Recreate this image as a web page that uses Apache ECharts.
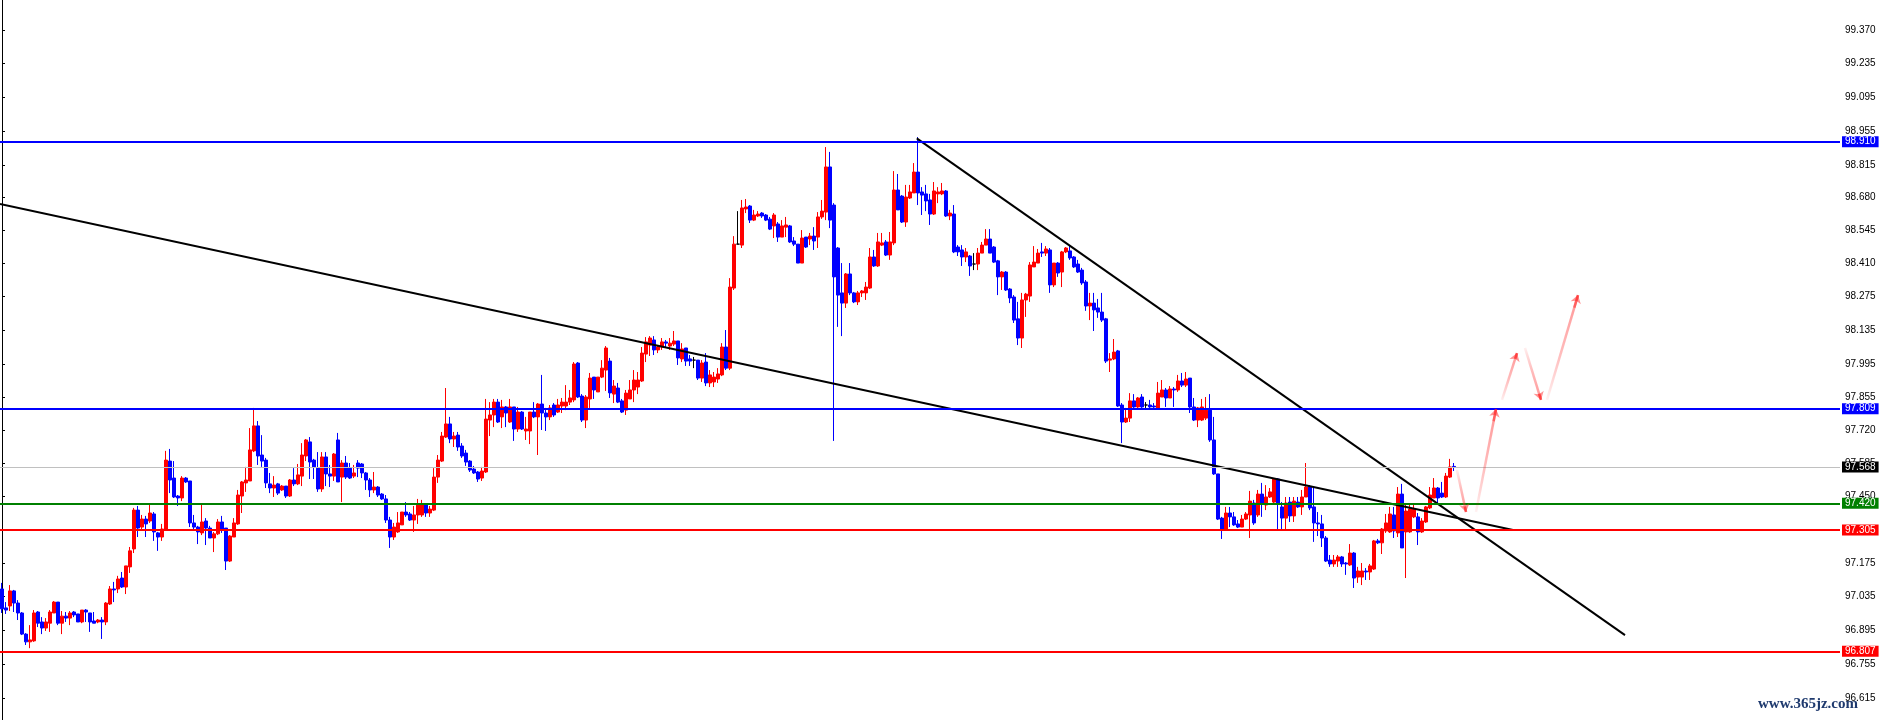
<!DOCTYPE html>
<html><head><meta charset="utf-8">
<script src="https://cdn.jsdelivr.net/npm/echarts@6/dist/echarts.min.js"></script>
<style>html,body{margin:0;padding:0;background:#fff}#c{width:1880px;height:720px}</style>
</head><body><div id="c"></div>
<script>
// ---- Candles (price values) ----
const opens = [97.067,96.989,96.997,97.059,97.009,96.968,96.881,96.849,96.853,96.972,96.931,96.906,96.926,96.968,97.013,96.926,96.955,96.947,96.972,96.964,96.931,96.980,96.968,96.935,96.931,96.939,96.931,97.005,97.067,97.067,97.112,97.075,97.158,97.232,97.392,97.322,97.355,97.347,97.376,97.298,97.281,97.314,97.594,97.524,97.450,97.442,97.524,97.512,97.339,97.322,97.298,97.347,97.318,97.277,97.294,97.343,97.318,97.182,97.281,97.335,97.450,97.504,97.512,97.636,97.739,97.619,97.598,97.500,97.483,97.500,97.475,97.491,97.450,97.516,97.500,97.532,97.615,97.673,97.598,97.565,97.479,97.611,97.541,97.532,97.681,97.528,97.586,97.565,97.532,97.586,97.582,97.545,97.516,97.475,97.487,97.458,97.438,97.351,97.281,97.302,97.331,97.384,97.376,97.351,97.372,97.372,97.413,97.380,97.392,97.528,97.594,97.693,97.747,97.685,97.701,97.656,97.627,97.594,97.561,97.549,97.524,97.549,97.763,97.784,97.837,97.776,97.817,97.755,97.817,97.726,97.796,97.718,97.718,97.796,97.776,97.829,97.792,97.776,97.825,97.796,97.821,97.821,97.837,97.846,97.998,97.862,97.763,97.850,97.940,97.879,97.940,97.969,98.006,97.870,97.895,97.842,97.804,97.850,97.887,97.899,97.924,98.035,98.072,98.093,98.052,98.064,98.085,98.068,98.076,98.089,98.015,98.060,98.015,98.010,98.010,97.936,98.002,97.916,97.920,97.932,97.949,98.064,97.977,98.307,98.488,98.484,98.633,98.645,98.587,98.604,98.616,98.608,98.591,98.563,98.571,98.517,98.558,98.563,98.501,98.488,98.410,98.517,98.509,98.521,98.517,98.600,98.620,98.806,98.649,98.472,98.287,98.245,98.365,98.287,98.250,98.287,98.287,98.307,98.435,98.398,98.484,98.497,98.443,98.493,98.711,98.686,98.579,98.678,98.699,98.785,98.703,98.695,98.670,98.612,98.695,98.695,98.707,98.604,98.612,98.476,98.464,98.435,98.439,98.406,98.406,98.451,98.484,98.509,98.476,98.419,98.353,98.373,98.303,98.270,98.180,98.101,98.258,98.274,98.394,98.410,98.456,98.451,98.464,98.320,98.410,98.373,98.456,98.460,98.435,98.406,98.381,98.332,98.233,98.245,98.225,98.208,98.180,98.010,98.015,98.048,97.825,97.755,97.771,97.842,97.817,97.858,97.825,97.825,97.821,97.813,97.858,97.887,97.854,97.891,97.887,97.924,97.907,97.936,97.817,97.763,97.763,97.771,97.804,97.681,97.541,97.359,97.310,97.380,97.364,97.335,97.322,97.355,97.372,97.421,97.372,97.458,97.413,97.446,97.425,97.520,97.405,97.359,97.425,97.368,97.425,97.405,97.446,97.487,97.405,97.339,97.335,97.277,97.186,97.170,97.182,97.199,97.174,97.166,97.215,97.116,97.116,97.141,97.137,97.149,97.265,97.257,97.306,97.302,97.372,97.298,97.458,97.302,97.302,97.364,97.364,97.302,97.343,97.401,97.442,97.483,97.462,97.446,97.528,97.572];
const closes = [96.985,96.980,97.059,97.009,96.968,96.881,96.849,96.857,96.968,96.926,96.906,96.931,96.972,97.013,96.926,96.955,96.947,96.968,96.960,96.931,96.980,96.972,96.931,96.926,96.939,96.931,97.009,97.067,97.063,97.108,97.075,97.162,97.224,97.392,97.318,97.355,97.335,97.380,97.302,97.281,97.314,97.598,97.516,97.446,97.442,97.524,97.508,97.339,97.322,97.302,97.343,97.318,97.277,97.294,97.343,97.314,97.182,97.285,97.339,97.454,97.508,97.516,97.640,97.739,97.615,97.594,97.504,97.483,97.495,97.462,97.491,97.450,97.516,97.500,97.537,97.619,97.681,97.590,97.570,97.479,97.611,97.541,97.532,97.623,97.508,97.586,97.528,97.524,97.545,97.565,97.545,97.516,97.475,97.487,97.454,97.438,97.351,97.281,97.322,97.339,97.384,97.372,97.351,97.372,97.413,97.413,97.380,97.396,97.528,97.598,97.697,97.747,97.685,97.697,97.652,97.615,97.590,97.557,97.545,97.520,97.553,97.767,97.784,97.837,97.755,97.817,97.792,97.817,97.726,97.796,97.726,97.726,97.796,97.776,97.829,97.792,97.776,97.813,97.784,97.825,97.837,97.837,97.854,97.994,97.858,97.763,97.858,97.936,97.887,97.940,97.977,98.060,97.875,97.903,97.837,97.796,97.874,97.887,97.928,97.928,98.039,98.085,98.101,98.052,98.064,98.085,98.080,98.080,98.089,98.019,98.056,98.006,98.006,98.010,97.936,97.998,97.916,97.949,97.940,97.953,98.064,97.977,98.311,98.488,98.488,98.637,98.641,98.587,98.608,98.612,98.604,98.587,98.550,98.608,98.517,98.563,98.567,98.497,98.488,98.410,98.513,98.476,98.521,98.501,98.600,98.624,98.806,98.587,98.353,98.278,98.245,98.365,98.287,98.250,98.287,98.295,98.311,98.435,98.398,98.497,98.493,98.443,98.497,98.711,98.629,98.579,98.682,98.703,98.785,98.699,98.690,98.666,98.612,98.707,98.703,98.707,98.604,98.616,98.456,98.456,98.435,98.456,98.398,98.406,98.451,98.484,98.509,98.451,98.414,98.353,98.373,98.299,98.266,98.175,98.101,98.258,98.282,98.402,98.414,98.451,98.451,98.468,98.320,98.410,98.369,98.456,98.472,98.431,98.394,98.373,98.328,98.233,98.245,98.217,98.208,98.175,98.006,98.015,98.043,97.821,97.755,97.771,97.842,97.817,97.854,97.817,97.825,97.817,97.817,97.874,97.887,97.854,97.891,97.887,97.924,97.907,97.932,97.817,97.763,97.813,97.817,97.804,97.681,97.541,97.355,97.310,97.380,97.364,97.331,97.322,97.355,97.376,97.429,97.339,97.458,97.417,97.446,97.467,97.520,97.421,97.359,97.421,97.368,97.429,97.405,97.446,97.487,97.401,97.339,97.335,97.277,97.182,97.170,97.186,97.199,97.170,97.170,97.215,97.112,97.141,97.141,97.137,97.162,97.265,97.257,97.314,97.339,97.376,97.306,97.458,97.236,97.388,97.396,97.396,97.302,97.347,97.405,97.454,97.483,97.442,97.446,97.532,97.570,97.568];
const lows = [96.968,96.964,96.976,96.972,96.939,96.877,96.836,96.823,96.849,96.910,96.881,96.894,96.890,96.968,96.918,96.881,96.931,96.918,96.951,96.931,96.926,96.931,96.890,96.926,96.926,96.861,96.918,97.001,97.013,97.050,97.071,97.046,97.133,97.215,97.281,97.310,97.281,97.339,97.265,97.224,97.265,97.310,97.462,97.442,97.409,97.429,97.504,97.322,97.306,97.252,97.289,97.248,97.277,97.219,97.289,97.298,97.145,97.178,97.281,97.331,97.380,97.467,97.512,97.631,97.578,97.570,97.483,97.462,97.446,97.454,97.471,97.442,97.446,97.491,97.495,97.491,97.594,97.520,97.520,97.467,97.467,97.491,97.487,97.512,97.508,97.425,97.520,97.520,97.524,97.528,97.524,97.475,97.446,97.462,97.446,97.434,97.339,97.236,97.269,97.298,97.331,97.364,97.347,97.302,97.335,97.364,97.364,97.364,97.388,97.504,97.590,97.689,97.668,97.652,97.636,97.607,97.574,97.549,97.541,97.508,97.512,97.545,97.697,97.734,97.751,97.730,97.734,97.751,97.677,97.714,97.722,97.681,97.664,97.771,97.619,97.722,97.718,97.763,97.776,97.792,97.792,97.804,97.825,97.837,97.854,97.755,97.730,97.813,97.850,97.879,97.936,97.883,97.854,97.833,97.833,97.792,97.784,97.850,97.837,97.870,97.920,98.002,98.027,98.031,98.039,98.052,98.064,98.052,98.068,97.990,98.002,97.986,97.986,97.977,97.928,97.920,97.903,97.899,97.899,97.916,97.944,97.969,97.969,98.299,98.488,98.472,98.616,98.575,98.583,98.600,98.596,98.583,98.546,98.513,98.497,98.517,98.517,98.493,98.480,98.410,98.410,98.472,98.484,98.464,98.472,98.592,98.587,98.554,97.677,98.147,98.109,98.225,98.278,98.245,98.237,98.270,98.258,98.303,98.394,98.394,98.480,98.439,98.423,98.484,98.629,98.575,98.559,98.674,98.699,98.649,98.608,98.624,98.567,98.608,98.657,98.690,98.600,98.587,98.451,98.439,98.398,98.414,98.357,98.381,98.381,98.451,98.484,98.451,98.410,98.278,98.299,98.295,98.245,98.163,98.072,98.060,98.188,98.250,98.394,98.410,98.435,98.439,98.287,98.311,98.353,98.311,98.451,98.423,98.390,98.369,98.320,98.213,98.175,98.130,98.184,98.167,97.998,97.961,98.010,97.817,97.668,97.751,97.755,97.813,97.813,97.813,97.813,97.813,97.813,97.809,97.858,97.817,97.854,97.817,97.879,97.899,97.899,97.792,97.759,97.734,97.759,97.763,97.673,97.537,97.351,97.273,97.306,97.322,97.327,97.318,97.322,97.351,97.277,97.331,97.364,97.364,97.392,97.442,97.421,97.310,97.310,97.310,97.343,97.343,97.401,97.372,97.446,97.392,97.261,97.285,97.240,97.178,97.158,97.158,97.158,97.158,97.125,97.162,97.071,97.092,97.083,97.104,97.104,97.145,97.252,97.211,97.298,97.298,97.277,97.281,97.236,97.112,97.298,97.359,97.248,97.298,97.339,97.396,97.442,97.421,97.442,97.442,97.524,97.553];
const highs = [97.092,97.013,97.083,97.063,97.021,96.972,96.885,96.918,96.980,96.976,96.951,96.947,96.980,97.017,97.013,96.976,96.972,96.976,96.976,96.964,96.980,96.984,96.968,96.972,96.943,96.951,97.013,97.079,97.096,97.121,97.137,97.162,97.240,97.401,97.409,97.372,97.368,97.417,97.384,97.302,97.335,97.636,97.644,97.594,97.454,97.532,97.528,97.512,97.372,97.327,97.417,97.359,97.327,97.302,97.355,97.368,97.318,97.289,97.359,97.475,97.512,97.570,97.730,97.813,97.759,97.701,97.607,97.545,97.532,97.504,97.495,97.491,97.520,97.565,97.582,97.668,97.685,97.693,97.603,97.631,97.631,97.631,97.578,97.627,97.710,97.598,97.615,97.586,97.578,97.598,97.586,97.549,97.524,97.549,97.491,97.462,97.454,97.364,97.339,97.384,97.384,97.425,97.384,97.409,97.438,97.434,97.417,97.409,97.565,97.619,97.714,97.895,97.776,97.714,97.714,97.668,97.640,97.598,97.574,97.553,97.570,97.850,97.837,97.850,97.850,97.846,97.821,97.850,97.817,97.817,97.800,97.776,97.796,97.837,97.833,97.949,97.813,97.825,97.833,97.850,97.854,97.907,97.887,98.002,98.002,97.870,97.866,97.957,97.940,97.940,98.010,98.068,98.019,97.928,97.916,97.850,97.887,97.928,97.969,97.961,98.064,98.105,98.109,98.109,98.072,98.101,98.093,98.101,98.130,98.089,98.080,98.060,98.031,98.023,98.010,98.010,98.039,97.969,97.961,97.977,98.080,98.134,98.348,98.521,98.624,98.670,98.674,98.649,98.629,98.624,98.620,98.612,98.600,98.616,98.579,98.587,98.600,98.567,98.517,98.488,98.546,98.517,98.534,98.558,98.620,98.670,98.888,98.868,98.657,98.476,98.410,98.369,98.410,98.291,98.295,98.299,98.332,98.472,98.464,98.534,98.534,98.505,98.538,98.789,98.777,98.690,98.732,98.732,98.822,98.929,98.723,98.732,98.695,98.744,98.723,98.740,98.711,98.629,98.649,98.484,98.484,98.472,98.443,98.451,98.472,98.497,98.550,98.550,98.480,98.423,98.377,98.377,98.307,98.278,98.250,98.287,98.287,98.414,98.480,98.468,98.493,98.480,98.472,98.410,98.414,98.460,98.476,98.484,98.439,98.423,98.390,98.340,98.287,98.287,98.262,98.287,98.184,98.039,98.097,98.052,97.833,97.813,97.874,97.870,97.858,97.870,97.837,97.846,97.833,97.920,97.928,97.895,97.903,97.899,97.949,97.957,97.961,97.936,97.854,97.817,97.850,97.858,97.870,97.776,97.541,97.364,97.405,97.405,97.384,97.351,97.372,97.384,97.471,97.434,97.475,97.504,97.495,97.483,97.524,97.524,97.425,97.446,97.446,97.446,97.446,97.475,97.586,97.495,97.483,97.384,97.372,97.285,97.207,97.207,97.207,97.203,97.178,97.252,97.219,97.158,97.174,97.153,97.170,97.269,97.273,97.318,97.376,97.405,97.405,97.487,97.500,97.413,97.413,97.413,97.380,97.359,97.409,97.487,97.524,97.487,97.508,97.545,97.603,97.586];

// ---- Horizontal levels ----
const levelValues = [98.910, 97.809, 97.568, 97.420, 97.305, 96.807];
const levelColors = ['#0000ff', '#0000ff', '#c0c0c0', '#008000', '#ff0000', '#ff0000'];
const levelLabelBg = ['#0000ff', '#0000ff', '#000000', '#008000', '#ff0000', '#ff0000'];
const levelWidths = [2, 2, 1, 2, 2, 2];

// ---- Right axis tick labels ----
const tickLabels = [99.370, 99.235, 99.095, 98.955, 98.815, 98.680, 98.545, 98.410, 98.275, 98.135, 97.995, 97.855, 97.720, 97.585, 97.450, 97.310, 97.175, 97.035, 96.895, 96.755, 96.615];

// ---- Trend lines [barIndex, price] ----
const trendLineA = [[-0.5, 98.653], [377.75, 97.310]];
const trendLineB = [[228.7, 98.924], [405.75, 96.877]];

// ---- Projection arrows [barIndex, price] ----
const arrowPaths = [
  [[363.75, 97.557], [366.0, 97.384]],
  [[368.5, 97.384], [373.5, 97.809]],
  [[375.0, 97.846], [378.75, 98.039]],
  [[380.75, 98.060], [384.75, 97.846]],
  [[386.25, 97.846], [394.0, 98.278]]
];

const SLOTS = 460;
const Y_MIN = 96.527, Y_MAX = 99.494;

const cats = [];
for (let i = 0; i < SLOTS; i++) cats.push(String(i));

const candleData = opens.map((o, i) => {
  const item = { value: [o, closes[i], lows[i], highs[i]] };
  if (o === closes[i]) {
    item.itemStyle = { color: '#000', color0: '#000', borderColor: '#000', borderColor0: '#000' };
  }
  return item;
});

const chart = echarts.init(document.getElementById('c'), null, { renderer: 'canvas' });

const levelLines = levelValues.map((v, i) => ({
  yAxis: v,
  lineStyle: { color: levelColors[i], width: levelWidths[i], type: 'solid' },
  label: {
    show: true, position: 'end', distance: 2,
    formatter: () => v.toFixed(3),
    color: '#fff', backgroundColor: levelLabelBg[i],
    fontFamily: 'Liberation Sans', fontSize: 10, padding: [1, 3, 0, 3]
  }
}));

const arrowBodies = arrowPaths.map(p => {
  const up = p[1][1] > p[0][1];
  return {
    coords: p,
    lineStyle: {
      width: 2.5,
      color: new echarts.graphic.LinearGradient(0, up ? 1 : 0, 0, up ? 0 : 1, [
        { offset: 0, color: 'rgba(255,0,0,0.08)' },
        { offset: 0.45, color: 'rgba(255,30,30,0.6)' },
        { offset: 1, color: 'rgba(255,30,30,0.95)' }
      ])
    }
  };
});
const arrowHeads = arrowPaths.map(p => {
  const t = 0.88;
  const s = [p[0][0] + (p[1][0] - p[0][0]) * t, p[0][1] + (p[1][1] - p[0][1]) * t];
  return { coords: [s, p[1]] };
});

chart.setOption({
  animation: false,
  backgroundColor: '#ffffff',
  grid: { left: 0, right: 40, top: 0, bottom: 0, containLabel: false },
  xAxis: [
    { type: 'category', data: cats, show: false, boundaryGap: true },
    { type: 'value', min: -0.5, max: SLOTS - 0.5, show: false }
  ],
  yAxis: {
    type: 'value', position: 'right', min: Y_MIN, max: Y_MAX, scale: true,
    axisLine: { show: true, lineStyle: { color: '#000', width: 1 } },
    axisTick: { show: true, length: 3, lineStyle: { color: '#000' }, customValues: tickLabels },
    axisLabel: {
      show: true, margin: 5, color: '#000', fontFamily: 'Liberation Sans', fontSize: 10,
      customValues: tickLabels, formatter: v => Number(v).toFixed(3)
    },
    splitLine: { show: false }
  },
  series: [
    {
      type: 'candlestick', xAxisIndex: 0, yAxisIndex: 0, barWidth: 3,
      itemStyle: { color: '#ff0000', color0: '#0000ff', borderColor: '#ff0000', borderColor0: '#0000ff', borderWidth: 1 },
      emphasis: { disabled: true },
      data: candleData, z: 3
    },
    {
      type: 'line', xAxisIndex: 1, yAxisIndex: 0, data: [], silent: true, z: 2,
      markLine: { silent: true, symbol: ['none', 'none'], animation: false, data: levelLines }
    },
    {
      type: 'line', xAxisIndex: 1, yAxisIndex: 0, data: trendLineA, showSymbol: false, silent: true, z: 4,
      lineStyle: { color: '#000', width: 2 }
    },
    {
      type: 'line', xAxisIndex: 1, yAxisIndex: 0, data: trendLineB, showSymbol: false, silent: true, z: 4,
      lineStyle: { color: '#000', width: 2 }
    },
    {
      type: 'lines', coordinateSystem: 'cartesian2d', xAxisIndex: 1, yAxisIndex: 0, silent: true, z: 5,
      symbol: ['none', 'none'], data: arrowBodies
    },
    {
      type: 'lines', coordinateSystem: 'cartesian2d', xAxisIndex: 1, yAxisIndex: 0, silent: true, z: 6,
      symbol: ['none', 'arrow'], symbolSize: 8,
      lineStyle: { color: 'rgba(255,30,30,0.95)', width: 2.5 },
      data: arrowHeads
    }
  ],
  graphic: [
    { type: 'text', left: 1758, top: 697, z: 100,
      style: { text: 'www.365jz.com', font: 'bold 15px "Liberation Serif"', fill: '#1f3a6e' } }
  ]
});
</script>
</body></html>
